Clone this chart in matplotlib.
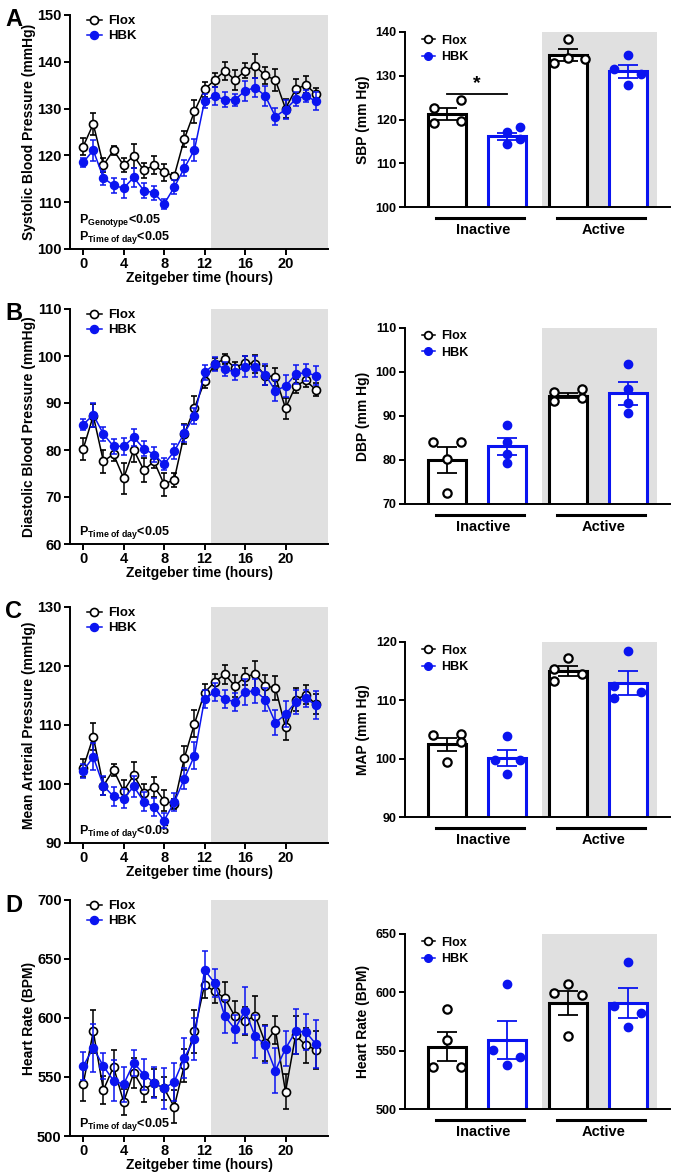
import matplotlib
matplotlib.use("Agg")
import matplotlib.pyplot as plt
import numpy as np

plt.rcParams['font.family'] = ['Liberation Sans', 'DejaVu Sans']
plt.rcParams['font.weight'] = 'bold'
plt.rcParams['mathtext.fontset'] = 'custom'
plt.rcParams['mathtext.rm'] = 'Liberation Sans:bold'
plt.rcParams['mathtext.bf'] = 'Liberation Sans:bold'
plt.rcParams['mathtext.it'] = 'Liberation Sans:bold'

BLUE = '#0a14f0'
GRAY = '#e0e0e0'

hours = np.arange(24)

# ---- time course data (mean, sem) ----
sbp_flox = [121.9, 126.7, 117.9, 121.1, 117.9, 119.9, 116.8, 117.9, 116.4, 115.6, 123.5, 129.4,
            134.1, 136.1, 138.1, 136.1, 138.1, 139.1, 137.1, 136.1, 130.0, 134.1, 135.1, 133.1]
sbp_flox_err = [1.8, 2.3, 1.5, 1.0, 1.5, 2.5, 1.6, 1.9, 1.8, 0.7, 1.8, 2.5,
                1.6, 1.5, 1.9, 2.1, 1.6, 2.5, 1.8, 2.3, 2.0, 2.3, 1.8, 1.4]
sbp_hbk = [118.5, 121.1, 115.2, 113.6, 113.0, 115.3, 112.5, 112.0, 109.6, 113.2, 117.3, 121.2,
           131.6, 132.7, 131.9, 131.9, 133.8, 134.5, 132.7, 128.3, 129.8, 132.0, 132.7, 131.6]
sbp_hbk_err = [1.0, 2.2, 1.5, 1.6, 2.0, 2.0, 1.6, 1.5, 1.1, 1.5, 1.7, 2.4,
               1.5, 2.0, 1.6, 1.3, 2.2, 2.0, 2.2, 1.8, 2.0, 1.5, 1.2, 2.0]

dbp_flox = [80.2, 87.3, 77.6, 79.1, 74.0, 80.0, 75.7, 77.6, 72.7, 73.7, 83.4, 88.9,
            94.6, 98.3, 99.4, 97.5, 98.6, 98.3, 95.8, 95.6, 88.9, 93.6, 94.8, 92.8]
dbp_flox_err = [2.4, 2.5, 2.5, 1.5, 3.3, 2.5, 2.5, 1.5, 2.5, 1.5, 2.2, 2.5,
                1.5, 1.3, 1.0, 1.3, 1.5, 2.0, 2.0, 1.9, 2.2, 1.5, 1.3, 1.4]
dbp_hbk = [85.4, 87.5, 83.4, 80.8, 80.8, 82.7, 80.3, 79.0, 77.0, 79.7, 83.6, 87.3,
           96.5, 98.3, 97.3, 96.5, 97.7, 97.7, 96.0, 92.6, 93.6, 96.1, 96.5, 95.8]
dbp_hbk_err = [1.2, 2.5, 1.5, 1.6, 1.8, 1.8, 1.6, 1.6, 1.3, 1.6, 1.8, 1.7,
               1.5, 1.4, 1.5, 1.5, 2.2, 2.2, 2.2, 2.2, 2.3, 2.0, 1.8, 2.0]

map_flox = [102.7, 108.0, 99.7, 102.4, 98.8, 101.5, 98.5, 99.5, 97.2, 96.6, 104.4, 110.2,
            115.5, 117.3, 118.6, 116.6, 118.2, 118.6, 116.6, 116.3, 109.6, 114.3, 115.1, 113.5]
map_flox_err = [1.5, 2.3, 1.5, 1.0, 1.8, 2.2, 1.5, 1.7, 1.7, 0.8, 2.0, 2.3,
                1.4, 1.4, 1.6, 1.8, 1.4, 2.3, 1.8, 2.0, 2.2, 2.0, 1.6, 1.7]
map_hbk = [102.2, 104.6, 99.7, 97.9, 97.5, 99.6, 97.0, 96.1, 93.8, 96.9, 100.9, 104.8,
           114.4, 115.6, 114.4, 113.9, 115.6, 115.8, 114.3, 110.4, 111.8, 113.9, 114.5, 113.4]
map_hbk_err = [1.2, 2.3, 1.6, 1.6, 1.6, 1.8, 1.6, 1.6, 1.3, 1.5, 1.8, 2.3,
               1.5, 1.6, 1.6, 1.5, 2.2, 2.0, 2.0, 2.1, 2.2, 2.0, 1.5, 2.3]

hr_flox = [543.7, 588.7, 538.9, 558.6, 529.0, 553.5, 538.9, 545.1, 540.3, 524.8, 560.0, 588.7,
           628.2, 622.5, 616.9, 601.4, 597.2, 602.0, 578.9, 590.1, 537.5, 585.4, 576.9, 573.2]
hr_flox_err = [14, 18, 12, 14, 11, 13, 10, 12, 10, 14, 14, 18,
               11, 10, 14, 13, 12, 17, 15, 12, 15, 16, 15, 16]
hr_hbk = [559.2, 574.6, 559.2, 547.0, 543.7, 562.0, 552.1, 545.1, 540.3, 545.9, 566.2, 582.3,
          640.8, 629.6, 601.4, 590.7, 606.2, 584.5, 577.5, 555.5, 574.0, 588.7, 588.2, 578.0]
hr_hbk_err = [12, 20, 11, 17, 15, 11, 13, 13, 17, 16, 17, 18,
              16, 12, 14, 12, 20, 18, 16, 19, 15, 19, 15, 20]

# ---- inactive / active summary data ----
groups = ['Inactive', 'Active']
sbp_bar_mean = [121.2, 116.2, 134.7, 131.0]
sbp_bar_err = [1.4, 0.8, 1.4, 1.5]
sbp_pts = [[122.7, 124.4, 119.2, 119.6], [117.1, 118.3, 114.3, 115.5],
           [138.5, 132.9, 134.1, 133.9], [134.7, 131.6, 130.5, 127.8]]
dbp_bar_mean = [80.0, 83.1, 94.6, 95.2]
dbp_bar_err = [2.9, 1.9, 0.6, 2.6]
dbp_pts = [[84.2, 84.2, 80.2, 72.4], [88.0, 84.0, 81.3, 79.3],
           [95.4, 96.1, 93.5, 94.1], [101.9, 96.2, 92.9, 90.6]]
map_bar_mean = [102.5, 100.1, 115.0, 113.0]
map_bar_err = [1.1, 1.4, 0.9, 2.0]
map_pts = [[104.0, 104.2, 102.9, 99.4], [103.9, 99.8, 99.7, 97.4],
           [117.3, 115.3, 114.6, 113.4], [118.5, 112.4, 111.5, 110.4]]
hr_bar_mean = [553.4, 559.1, 591.1, 591.1]
hr_bar_err = [12.3, 16.3, 10.3, 12.9]
hr_pts = [[585.7, 559.1, 536.3, 536.3], [607.1, 550.6, 544.3, 537.7],
          [607.1, 599.7, 597.7, 562.6], [626.3, 588.3, 582.6, 570.6]]
# horizontal jitter of the individual points (fraction of bar width)
sbp_jit = [[-0.33, 0.38, -0.33, 0.38], [0.0, 0.33, 0.0, 0.33], [0.0, -0.37, 0.0, 0.45], [0.0, -0.37, 0.33, 0.0]]
dbp_jit = [[-0.37, 0.37, 0.0, 0.0], [0.0, 0.0, 0.0, 0.0], [-0.37, 0.37, -0.37, 0.37], [0.0, 0.0, 0.0, 0.0]]
map_jit = [[-0.37, 0.37, 0.37, 0.0], [0.0, -0.33, 0.33, 0.0], [0.0, -0.37, 0.37, -0.37], [0.0, -0.37, 0.33, -0.37]]
hr_jit = [[0.0, 0.0, -0.37, 0.37], [0.0, -0.37, 0.33, 0.0], [0.0, -0.37, 0.37, 0.0], [0.0, -0.37, 0.33, 0.0]]

W, H = 675, 1174
fig = plt.figure(figsize=(W / 100, H / 100), dpi=100)


def px_axes(x0, y0, x1, y1):
    return fig.add_axes([x0 / W, 1 - y1 / H, (x1 - x0) / W, (y1 - y0) / H])


def style(ax, fs):
    ax.spines['top'].set_visible(False)
    ax.spines['right'].set_visible(False)
    ax.spines['left'].set_linewidth(1.4)
    ax.spines['bottom'].set_linewidth(1.4)
    ax.tick_params(width=1.4, length=4, labelsize=fs, pad=2)
    for t in ax.get_xticklabels() + ax.get_yticklabels():
        t.set_fontweight('bold')


def line_panel(rect, flox, flox_err, hbk, hbk_err, ylim, yticks, ylabel, ptexts, letter):
    ax = px_axes(*rect)
    ax.axvspan(12.65, 24.2, color=GRAY, lw=0, zorder=0)
    ax.errorbar(hours, flox, yerr=flox_err, color='black', lw=1.1, marker='o', ms=5.8,
                mfc='white', mec='black', mew=1.2, capsize=2.5, elinewidth=1.1, capthick=1.1,
                label='Flox', zorder=3)
    ax.errorbar(hours, hbk, yerr=hbk_err, color=BLUE, lw=1.1, marker='o', ms=5.8,
                mfc=BLUE, mec=BLUE, capsize=2.5, elinewidth=1.1, capthick=1.1,
                label='HBK', zorder=4)
    ax.set_xlim(-1.3, 24.2)
    ax.set_ylim(*ylim)
    ax.set_xticks([0, 4, 8, 12, 16, 20])
    ax.set_yticks(yticks)
    ax.set_xlabel('Zeitgeber time (hours)', fontsize=10, fontweight='bold', labelpad=0)
    ax.set_ylabel(ylabel, fontsize=10, fontweight='bold', labelpad=1)
    style(ax, 10.5)
    h, l = ax.get_legend_handles_labels()
    h = [x[0] for x in h]
    ax.legend(h, l, loc='upper left', bbox_to_anchor=(0.02, 1.05), frameon=False,
              handlelength=1.1, handletextpad=0.5, labelspacing=0.2,
              prop={'size': 9.5, 'weight': 'bold'})
    for i, t in enumerate(ptexts):
        ax.text(0.035, 0.05 + 0.07 * (len(ptexts) - 1 - i), t, transform=ax.transAxes,
                fontsize=9, fontweight='bold', va='center')
    fig.text(14 / W, 1 - (rect[1] + 5) / H, letter, fontsize=17, fontweight='bold',
             ha='center', va='center')
    return ax


def bar_panel(rect, means, errs, pts, jit, ylim, yticks, ylabel, star=None):
    ax = px_axes(*rect)
    pos = np.arange(4)
    ax.axvspan(1.57, 3.48, color=GRAY, lw=0, zorder=0)
    cols = ['black', BLUE, 'black', BLUE]
    ax.bar(pos, means, width=0.63, color='white', edgecolor=cols, linewidth=2.2, zorder=2)
    for i in range(4):
        ax.errorbar(pos[i], means[i], yerr=errs[i], color=cols[i], capsize=7,
                    elinewidth=1.3, capthick=1.3, zorder=3)
        xs = pos[i] + np.array(jit[i]) * 0.63
        if i % 2 == 0:
            ax.plot(xs, pts[i], 'o', ms=6, mfc='white', mec='black', mew=1.6, zorder=4,
                    clip_on=False)
        else:
            ax.plot(xs, pts[i], 'o', ms=6, mfc=BLUE, mec=BLUE, zorder=4, clip_on=False)
    ax.plot([], [], '-o', color='black', ms=5.5, mfc='white', mew=1.3, lw=1.1, label='Flox')
    ax.plot([], [], '-o', color=BLUE, ms=5.5, lw=1.1, label='HBK')
    ax.set_xlim(-0.69, 3.69)
    ax.set_ylim(*ylim)
    ax.set_yticks(yticks)
    ax.set_xticks([])
    ax.set_ylabel(ylabel, fontsize=10, fontweight='bold', labelpad=4)
    style(ax, 9)
    ax.legend(loc='upper left', bbox_to_anchor=(0.02, 1.05), frameon=False,
              handlelength=1.1, handletextpad=0.5, labelspacing=0.35,
              prop={'size': 9, 'weight': 'bold'})
    trans = ax.get_xaxis_transform()
    for k, g in enumerate(groups):
        x0, x1 = 2 * k - 0.18, 2 * k + 1.27
        ax.plot([x0, x1], [-0.06, -0.06], color='black', lw=2.2, transform=trans,
                clip_on=False)
        ax.text(2 * k + 0.6, -0.13, g, transform=trans, ha='center', va='center',
                fontsize=10.5, fontweight='bold')
    if star is not None:
        ax.plot([0, 1], [star, star], color='black', lw=1.3, zorder=3)
        ax.text(0.5, star + 0.4, '*', ha='center', va='bottom', fontsize=14,
                fontweight='bold')
    return ax


p_geno = r'$\mathbf{P_{Genotype}}$<0.05'
p_time = r'$\mathbf{P_{Time\ of\ day}}$<0.05'

line_panel((70, 15, 328, 249), sbp_flox, sbp_flox_err, sbp_hbk, sbp_hbk_err, (100, 150),
           range(100, 151, 10), 'Systolic Blood Pressure (mmHg)', [p_geno, p_time], 'A')
line_panel((70, 309, 328, 544), dbp_flox, dbp_flox_err, dbp_hbk, dbp_hbk_err, (60, 110),
           range(60, 111, 10), 'Diastolic Blood Pressure (mmHg)', [p_time], 'B')
line_panel((70, 607, 328, 843), map_flox, map_flox_err, map_hbk, map_hbk_err, (90, 130),
           range(90, 131, 10), 'Mean Arterial Pressure (mmHg)', [p_time], 'C')
line_panel((70, 900, 328, 1136), hr_flox, hr_flox_err, hr_hbk, hr_hbk_err, (500, 700),
           range(500, 701, 50), 'Heart Rate (BPM)', [p_time], 'D')

bar_panel((405, 32, 670, 207), sbp_bar_mean, sbp_bar_err, sbp_pts, sbp_jit, (100, 140),
          range(100, 141, 10), 'SBP (mm Hg)', star=125.9)
bar_panel((405, 328, 670, 504), dbp_bar_mean, dbp_bar_err, dbp_pts, dbp_jit, (70, 110),
          range(70, 111, 10), 'DBP (mm Hg)')
bar_panel((405, 642, 670, 817), map_bar_mean, map_bar_err, map_pts, map_jit, (90, 120),
          range(90, 121, 10), 'MAP (mm Hg)')
bar_panel((405, 934, 670, 1109), hr_bar_mean, hr_bar_err, hr_pts, hr_jit, (500, 650),
          range(500, 651, 50), 'Heart Rate (BPM)')

fig.savefig('out.png', dpi=100)
